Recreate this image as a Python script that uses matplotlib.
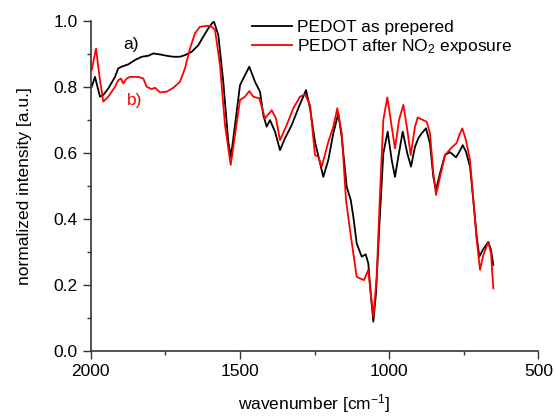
import matplotlib
matplotlib.use("Agg")
import matplotlib.pyplot as plt
from matplotlib.ticker import MultipleLocator

# PEDOT as prepared (black)
wn_a = [1996.6, 1985.6, 1968.8, 1957.8, 1941.0, 1918.6, 1907.5, 1896.1, 1874.0, 1851.6,
        1829.1, 1807.0, 1790.2, 1767.8, 1745.3, 1723.2, 1700.8, 1684.0, 1661.6, 1639.4,
        1622.7, 1605.9, 1591.2, 1586.8, 1572.4, 1555.7, 1538.9, 1529.9, 1516.5, 1499.7,
        1483.0, 1468.5, 1449.4, 1432.6, 1421.6, 1410.2, 1399.2, 1382.4, 1365.6, 1348.9,
        1326.4, 1304.3, 1278.5, 1265.1, 1248.4, 1220.6, 1203.8, 1187.0, 1170.3, 1158.9,
        1142.2, 1128.7, 1120.0, 1108.6, 1091.9, 1078.5, 1069.8, 1061.7, 1053.0, 1044.0,
        1032.9, 1019.5, 1004.8, 991.4, 980.3, 969.2, 954.5, 939.1, 926.7, 913.3,
        902.2, 890.8, 876.4, 863.0, 851.9, 842.9, 829.5, 812.7, 796.0, 775.9,
        764.8, 753.4, 742.4, 729.0, 717.9, 706.5, 697.8, 686.4, 667.7, 658.6, 650.9]
int_a = [0.800, 0.830, 0.770, 0.775, 0.795, 0.830, 0.856, 0.861, 0.868, 0.881,
         0.891, 0.894, 0.901, 0.898, 0.894, 0.891, 0.891, 0.896, 0.906, 0.926,
         0.952, 0.977, 0.995, 0.997, 0.957, 0.815, 0.633, 0.588, 0.684, 0.805,
         0.835, 0.861, 0.815, 0.785, 0.714, 0.679, 0.699, 0.664, 0.608, 0.644,
         0.684, 0.735, 0.790, 0.735, 0.633, 0.527, 0.578, 0.659, 0.719, 0.648,
         0.497, 0.457, 0.406, 0.325, 0.285, 0.292, 0.265, 0.174, 0.088, 0.174,
         0.376, 0.598, 0.664, 0.578, 0.527, 0.588, 0.664, 0.598, 0.558, 0.618,
         0.644, 0.659, 0.674, 0.628, 0.527, 0.487, 0.538, 0.593, 0.602, 0.586,
         0.603, 0.623, 0.603, 0.558, 0.457, 0.345, 0.285, 0.305, 0.330, 0.305, 0.260]

# PEDOT after NO2 exposure (red)
wn_b = [1996.6, 1982.2, 1968.8, 1957.8, 1941.0, 1918.6, 1907.5, 1898.5, 1890.8, 1879.4,
        1868.3, 1840.5, 1823.7, 1812.3, 1795.6, 1784.5, 1767.8, 1745.3, 1723.2, 1700.8,
        1684.0, 1667.2, 1650.5, 1633.7, 1605.9, 1594.5, 1583.5, 1566.7, 1550.0, 1530.9,
        1516.5, 1499.7, 1483.0, 1468.5, 1455.1, 1435.0, 1415.9, 1393.5, 1379.1, 1365.6,
        1343.2, 1321.1, 1298.6, 1281.9, 1265.1, 1248.4, 1237.3, 1225.9, 1203.8, 1187.0,
        1173.6, 1158.9, 1144.5, 1131.1, 1120.0, 1108.6, 1097.6, 1084.2, 1069.8, 1061.7,
        1053.0, 1041.6, 1030.6, 1019.5, 1006.1, 991.4, 980.3, 966.9, 952.5, 939.1,
        927.7, 913.3, 904.3, 890.8, 874.1, 863.0, 851.9, 842.9, 829.5, 812.7,
        790.3, 773.5, 764.8, 754.8, 742.4, 729.0, 717.9, 706.5, 695.5, 684.4,
        667.7, 658.6, 650.9]
int_b = [0.851, 0.916, 0.820, 0.755, 0.770, 0.800, 0.820, 0.825, 0.810, 0.825,
         0.830, 0.830, 0.825, 0.800, 0.793, 0.797, 0.783, 0.785, 0.797, 0.815,
         0.856, 0.916, 0.962, 0.982, 0.985, 0.982, 0.972, 0.866, 0.684, 0.563,
         0.654, 0.760, 0.770, 0.787, 0.770, 0.765, 0.704, 0.729, 0.704, 0.638,
         0.684, 0.735, 0.770, 0.777, 0.745, 0.593, 0.588, 0.558, 0.633, 0.679,
         0.735, 0.659, 0.457, 0.366, 0.295, 0.224, 0.219, 0.214, 0.245, 0.174,
         0.103, 0.224, 0.477, 0.699, 0.768, 0.679, 0.613, 0.699, 0.745, 0.669,
         0.593, 0.679, 0.707, 0.701, 0.694, 0.659, 0.538, 0.472, 0.527, 0.593,
         0.616, 0.630, 0.654, 0.674, 0.638, 0.578, 0.457, 0.336, 0.245, 0.290,
         0.330, 0.295, 0.189]

labels = ["PEDOT as prepered", "PEDOT after NO$_2$ exposure"]

plt.rcParams["font.family"] = ["Liberation Sans", "DejaVu Sans"]
plt.rcParams["mathtext.fontset"] = "custom"
plt.rcParams["mathtext.rm"] = "Liberation Sans"
plt.rcParams["mathtext.it"] = "Liberation Sans"

fig = plt.figure(figsize=(5.55, 4.16), dpi=100)
ax = fig.add_axes([0.1634, 0.157, 0.8066, 0.793])

ax.plot(wn_a, int_a, color="black", lw=1.3, label=labels[0])
ax.plot(wn_b, int_b, color="red", lw=1.3, label=labels[1])

ax.text(1865, 0.928, "a)", color="black", fontsize=12.5, ha="center", va="center")
ax.text(1853, 0.757, "b)", color="red", fontsize=12.5, ha="center", va="center")

ax.set_xlim(2000, 500)
ax.set_ylim(0, 1.0)
ax.xaxis.set_major_locator(MultipleLocator(500))
ax.xaxis.set_minor_locator(MultipleLocator(250))
ax.yaxis.set_major_locator(MultipleLocator(0.2))
ax.yaxis.set_minor_locator(MultipleLocator(0.1))
ax.yaxis.set_major_formatter(plt.FormatStrFormatter("%.1f"))

for s in ["top", "right"]:
    ax.spines[s].set_visible(False)
for s in ["left", "bottom"]:
    ax.spines[s].set_linewidth(1.2)
    ax.spines[s].set_color("#333333")
ax.tick_params(which="major", direction="out", length=6, width=1.0, labelsize=12.5, color="#333333")
ax.tick_params(which="minor", direction="out", length=3, width=1.0, color="#333333")

ax.set_xlabel("wavenumber [cm$^{-1}$]", fontsize=12.5)
ax.set_ylabel("normalized intensity [a.u.]", fontsize=12.5)
ax.yaxis.set_label_coords(-0.13, 0.5)
ax.xaxis.set_label_coords(0.5, -0.125)

ax.legend(loc="upper left", bbox_to_anchor=(0.36, 1.002), frameon=False, fontsize=12.5,
          handlelength=2.3, handletextpad=0.3, labelspacing=0.1, borderaxespad=0.0,
          borderpad=0.0)

fig.savefig("out.png", dpi=100)
